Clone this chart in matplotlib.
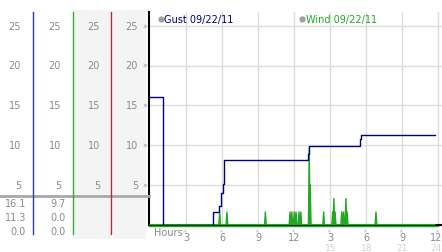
import matplotlib
matplotlib.use("Agg")
import matplotlib.pyplot as plt
from matplotlib.patches import Rectangle

# datos
gust_hours = [0, 1.05, 1.1, 5.28, 5.75, 5.9, 5.95, 6.05, 6.15, 6.2, 13.15, 13.25, 17.45, 17.55, 23.7]
gust_vals = [16.1, 8.1, 0.0, 1.6, 2.3, 3.3, 4.0, 5.1, 6.6, 8.1, 8.9, 9.9, 10.8, 11.3, 11.3]

wind_hours = [5.8, 6.4, 9.6, 11.65, 11.8, 12.0, 12.15, 12.4, 12.55, 13.25, 13.33,
              14.45, 15.2, 15.3, 15.4, 15.95, 16.1, 16.3, 16.4, 18.8]
wind_vals = [1.6, 1.6, 1.6, 1.6, 1.6, 1.6, 1.6, 1.6, 1.6, 9.7, 5.0,
             1.6, 1.6, 3.3, 1.6, 1.6, 1.6, 3.3, 1.6, 1.6]
wind_end = 23.7

y_ticks = [5, 10, 15, 20, 25]
x_ticks = [3, 6, 9, 12, 15, 18, 21, 24]
x_labels = ["3", "6", "9", "12", "3", "6", "9", "12"]
x_labels2 = ["", "", "", "", "15", "18", "21", "24"]

gust_stats = ["16.1", "11.3", "0.0"]
wind_stats = ["9.7", "0.0", "0.0"]

gust_label = "Gust 09/22/11"
wind_label = "Wind 09/22/11"

c_gust = "#000080"
c_wind = "#22a822"
c_txt = "#8a8a8a"
c_grid = "#dcdcdc"

W, H = 442, 253
fig = plt.figure(figsize=(W / 100, H / 100), dpi=100)

x0, x1 = 149, 442
ytop, ybot = 13, 225.7
px_unit = (225.7 - 26.7) / 25
ymax = (ybot - ytop) / px_unit
ax = fig.add_axes([x0 / W, (H - ybot) / H, (x1 - x0) / W, (ybot - ytop) / H])
ax.set_xlim(-0.08, (x1 - 150) / 12.02)
ax.set_ylim(0, ymax)

for y in y_ticks:
    ax.axhline(y, color=c_grid, lw=1, zorder=0)
for x in x_ticks:
    ax.axvline(x, color=c_grid, lw=1, zorder=0)

# wind: picos sobre linea base
wx = [0]
wy = [0]
for h, v in zip(wind_hours, wind_vals):
    wx += [h - 0.07, h, h + 0.07]
    wy += [0, v, 0]
wx.append(wind_end)
wy.append(0)
ax.plot(wx, wy, color=c_wind, lw=1, zorder=3, clip_on=False)
ax.plot([-0.1, wind_end + 0.3], [-0.12, -0.12], color=c_wind, lw=1, zorder=2, clip_on=False)

ax.plot(gust_hours, gust_vals, color=c_gust, lw=1.0, drawstyle="steps-post", zorder=4)

for s in ["top", "right"]:
    ax.spines[s].set_visible(False)
ax.spines["left"].set_color("black")
ax.spines["left"].set_linewidth(1.5)
ax.spines["bottom"].set_color("black")
ax.spines["bottom"].set_linewidth(1.5)
ax.set_xticks([])
ax.set_yticks([])

# leyenda
ax.text(1.2, ymax - 0.85, gust_label, color=c_gust, fontsize=7, va="center", ha="left")
ax.plot([0.9], [ymax - 0.85], "o", ms=3.5, color="#a0a0a0", clip_on=False)
ax.text(12.95, ymax - 0.85, wind_label, color=c_wind, fontsize=7, va="center", ha="left")
ax.plot([12.65], [ymax - 0.85], "o", ms=3.5, color="#a0a0a0", clip_on=False)

# eje x
for x, lab, lab2 in zip(x_ticks, x_labels, x_labels2):
    ha = "right" if x == x_ticks[-1] else "center"
    xt = x + 0.3 if x == x_ticks[-1] else x
    ax.text(x, -0.6, "»", color="#999999", fontsize=4.5, rotation=90, ha="center", va="center",
            clip_on=False, zorder=6)
    ax.text(xt, -1.5, lab, color=c_txt, fontsize=7, ha=ha, va="center", clip_on=False)
    if lab2:
        ax.text(xt, -2.9, lab2, color="#d2d2d2", fontsize=6.5, ha=ha, va="center", clip_on=False)
ax.text(0.3, -0.95, "Hours", color=c_txt, fontsize=7, ha="left", va="center", clip_on=False)

# panel izquierdo
axl = fig.add_axes([0, (H - ybot) / H, x0 / W, (ybot - ytop) / H])
axl.set_xlim(0, x0)
axl.set_ylim(0, ymax)
axl.axis("off")

y_lo = -(240 - ybot) / px_unit
axl.add_patch(Rectangle((73, y_lo), 38, ymax + 0.3 - y_lo, color="#f4f4f4", lw=0, clip_on=False, zorder=0))
axl.add_patch(Rectangle((113, y_lo), 33, ymax + 0.3 - y_lo, color="#f4f4f4", lw=0, clip_on=False, zorder=0))

y_sep = (ybot - 197) / px_unit
axl.plot([0, x0], [y_sep, y_sep], color="#a8a8a8", lw=2, clip_on=False, zorder=2)

y_end = -(235 - ybot) / px_unit
for xl, col in [(33, "#2c3f99"), (72.5, "#33a833"), (111, "#b03030")]:
    axl.plot([xl, xl], [y_end, ymax], color=col, lw=1, clip_on=False, zorder=3)

for y in y_ticks:
    for xr in [21, 61, 100, 138]:
        axl.text(xr, y, str(y), color=c_txt, fontsize=7, ha="right", va="center")
    axl.text(145, y, "»", color="#999999", fontsize=5.5, ha="center", va="center", zorder=6)

row_px = [204.3, 218.3, 231.7]
for yp, g, w in zip(row_px, gust_stats, wind_stats):
    yd = (ybot - yp) / px_unit
    axl.text(26, yd, g, color=c_txt, fontsize=7, ha="right", va="center", clip_on=False)
    axl.text(66, yd, w, color=c_txt, fontsize=7, ha="right", va="center", clip_on=False)

fig.savefig("out.png", dpi=100)
